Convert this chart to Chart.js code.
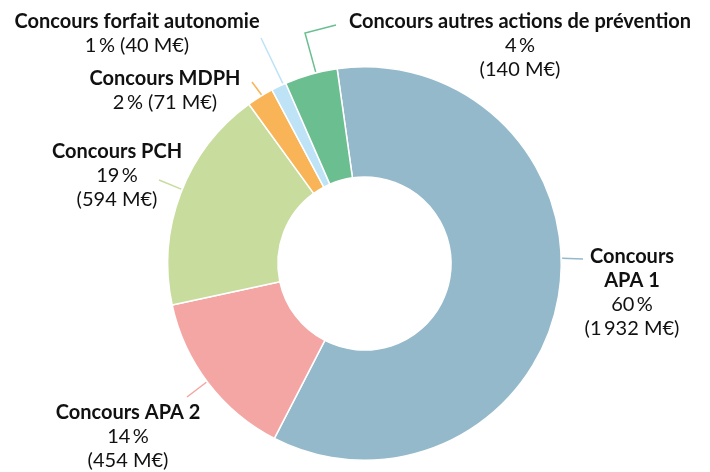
<!DOCTYPE html>
<html>
<head>
<meta charset="utf-8">
<script src="https://cdn.jsdelivr.net/npm/chart.js@4/dist/chart.umd.min.js"></script>
<style>
  body { margin: 0; background: #fff; }
</style>
</head>
<body>
<canvas id="chart1" width="710" height="472"></canvas>
<script>
// data (M€), order = clockwise from the top
var categories = ['Concours APA 1', 'Concours APA 2', 'Concours PCH', 'Concours MDPH',
                  'Concours forfait autonomie', 'Concours autres actions de prévention'];
var amounts = [1932, 454, 594, 71, 40, 140];
var percents = [60, 14, 19, 2, 1, 4];
var colors = ['#93B9CB', '#F4A6A4', '#C7DC9D', '#F8B456', '#BEE3F6', '#6ABE90'];

// where each label goes: text position, how it wraps, leader line
var labelLayout = [
  { x: 632, y: 263, wrapName: true,  split: true,  angle: 88.5,  line: [[583, 259]] },
  { x: 128, y: 419, wrapName: false, split: true,  angle: 233.1, line: [[187, 397]] },
  { x: 117, y: 158, wrapName: false, split: true,  angle: 292.1, line: [[159, 180]] },
  { x: 165, y: 85,  wrapName: false, split: false, angle: 328.6, line: [[252, 82]] },
  { x: 137, y: 28,  wrapName: false, split: false, angle: 335.6, line: [[261, 38]] },
  { x: 520, y: 28,  wrapName: false, split: true,  angle: 345.7, line: [[305, 33], [336, 25]] }
];

function fmtAmount(v) {
  return String(v).replace(/\B(?=(\d{3})+(?!\d))/g, '\u2009');
}

var labelsPlugin = {
  id: 'sliceLabels',
  afterDraw: function(chart) {
    var ctx = chart.ctx;
    var arcs = chart.getDatasetMeta(0).data;
    var cx = arcs[0].x, cy = arcs[0].y, r = arcs[0].outerRadius;
    ctx.save();
    labelLayout.forEach(function(lay, i) {
      // leader line
      var a = (lay.angle - 90) * Math.PI / 180;
      ctx.beginPath();
      ctx.moveTo(cx + (r + 1) * Math.cos(a), cy + (r + 1) * Math.sin(a));
      lay.line.forEach(function(p) { ctx.lineTo(p[0], p[1]); });
      ctx.strokeStyle = colors[i];
      ctx.lineWidth = 1.5;
      ctx.stroke();

      // text
      var nameLines = lay.wrapName ? ['Concours', categories[i].replace('Concours ', '')] : [categories[i]];
      var pct = percents[i] + '\u2009%';
      var amt = '(' + fmtAmount(amounts[i]) + ' M€)';
      var valLines = lay.split ? [pct, amt] : [pct + ' ' + amt];
      ctx.fillStyle = '#111111';
      ctx.textAlign = 'center';
      ctx.textBaseline = 'alphabetic';
      var y = lay.y;
      ctx.font = 'bold 20px Lato';
      nameLines.forEach(function(t) { ctx.fillText(t, lay.x, y); y += 24; });
      ctx.font = '20px Lato';
      valLines.forEach(function(t) { ctx.fillText(t, lay.x, y); y += 23.5; });
    });
    ctx.restore();
  }
};

var ctx = document.getElementById('chart1').getContext('2d');
var chart = new Chart(ctx, {
  type: 'doughnut',
  data: {
    labels: categories,
    datasets: [{
      data: amounts,
      backgroundColor: colors,
      borderColor: '#ffffff',
      borderWidth: 1.5
    }]
  },
  options: {
    responsive: false,
    animation: false,
    rotation: -8,
    cutout: '44%',
    layout: { padding: { top: 66, bottom: 11, left: 167, right: 148 } },
    plugins: {
      legend: { display: false },
      tooltip: { enabled: false }
    }
  },
  plugins: [labelsPlugin]
});
</script>
</body>
</html>
